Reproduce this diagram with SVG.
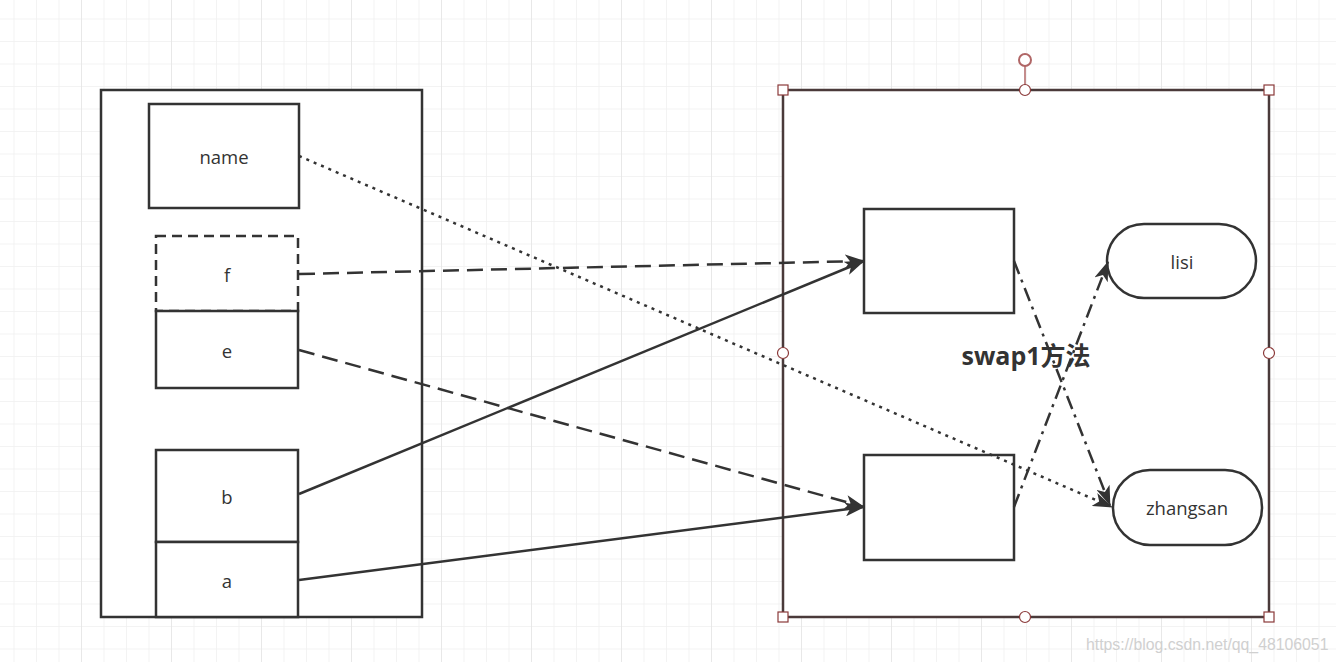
<svg xmlns="http://www.w3.org/2000/svg" width="1336" height="662" viewBox="0 0 1336 662">
<defs>
<pattern id="minor" x="13.5" y="18.5" width="22.5" height="22.5" patternUnits="userSpaceOnUse">
<path d="M0 0H22.5M0 0V22.5" fill="none" stroke="#f0f0f0" stroke-width="1.5"/>
</pattern>
<pattern id="major" x="81" y="18.5" width="90" height="90" patternUnits="userSpaceOnUse">
<path d="M0 0V90" fill="none" stroke="#e4e4e4" stroke-width="1.5"/>
</pattern>
<marker id="ah" viewBox="0 0 20 14" refX="19" refY="7" markerWidth="20" markerHeight="14" markerUnits="userSpaceOnUse" orient="auto">
<path d="M0 0L20 7L0 14L5 7Z" fill="#333"/>
</marker>
<style>
.box{fill:#fff;stroke:#333;stroke-width:2.5}
.lbl{font-family:"Open Sans","Noto Sans","Liberation Sans",sans-serif;font-size:18.5px;fill:#333;text-anchor:middle;dominant-baseline:central}
.c{fill:none;stroke:#333;stroke-width:2.5}
.h{fill:#fff;stroke:#8b3a3a;stroke-width:1.2}
</style>
</defs>
<rect width="1336" height="662" fill="#fff"/>
<rect width="1336" height="662" fill="url(#minor)"/>
<rect width="1336" height="662" fill="url(#major)"/>

<g id="left-frame"><rect class="box" x="101" y="90" width="321" height="527"/></g>
<g id="node-name"><rect class="box" x="149" y="104" width="150" height="104"/><text class="lbl" x="224" y="156">name</text></g>
<g id="node-f"><rect class="box" x="156" y="236" width="142" height="75" stroke-dasharray="10 6"/><text class="lbl" x="227" y="274">f</text></g>
<g id="node-e"><rect class="box" x="156" y="311" width="142" height="77"/><text class="lbl" x="227" y="350">e</text></g>
<g id="node-b"><rect class="box" x="156" y="450" width="142" height="92"/><text class="lbl" x="227" y="496">b</text></g>
<g id="node-a"><rect class="box" x="156" y="542" width="142" height="75"/><text class="lbl" x="227" y="580">a</text></g>

<g id="swap1-frame">
<rect x="783" y="90" width="486" height="527" fill="#fff" stroke="#4a3a3a" stroke-width="2.5"/>
<text x="1026" y="355" font-family="'Open Sans','Noto Sans','Noto Sans CJK SC',sans-serif" font-size="25" font-weight="bold" fill="#333" text-anchor="middle" dominant-baseline="central">swap1方法</text>
</g>
<g id="node-top"><rect class="box" x="864" y="209" width="150" height="104"/></g>
<g id="node-bottom"><rect class="box" x="864" y="455" width="150" height="105"/></g>
<g id="node-lisi"><rect class="box" x="1107" y="224" width="149" height="74" rx="37"/><text class="lbl" x="1182" y="261">lisi</text></g>
<g id="node-zhangsan"><rect class="box" x="1113" y="470" width="149" height="75" rx="37"/><text class="lbl" x="1187" y="507">zhangsan</text></g>

<g id="connectors">
<path class="c" d="M299 156L1112 507" stroke-dasharray="3 5" marker-end="url(#ah)"/>
<path class="c" d="M299 274L864 261" stroke-dasharray="16 8" marker-end="url(#ah)"/>
<path class="c" d="M299 350L864 507" stroke-dasharray="16 8" marker-end="url(#ah)"/>
<path class="c" d="M299 494L864 261" marker-end="url(#ah)"/>
<path class="c" d="M299 580L864 507" marker-end="url(#ah)"/>
<path class="c" d="M1014 261L1110 505" stroke-dasharray="14 6 3 6" marker-end="url(#ah)"/>
<path class="c" d="M1014 507L1108 262" stroke-dasharray="14 6 3 6" marker-end="url(#ah)"/>
</g>

<g id="selection-handles">
<line x1="1025" y1="66" x2="1025" y2="90" stroke="#b06666" stroke-width="1.5"/>
<circle cx="1025" cy="60" r="6" fill="#fff" stroke="#b06666" stroke-width="2"/>
<rect class="h" x="778" y="85" width="10" height="10"/>
<rect class="h" x="1264" y="85" width="10" height="10"/>
<rect class="h" x="778" y="612" width="10" height="10"/>
<rect class="h" x="1264" y="612" width="10" height="10"/>
<circle class="h" cx="1025" cy="90" r="5.5"/>
<circle class="h" cx="1025" cy="617" r="5.5"/>
<circle class="h" cx="783" cy="353" r="5.5"/>
<circle class="h" cx="1269" cy="353" r="5.5"/>
</g>
<text x="1086" y="650" font-family="'Liberation Sans',sans-serif" font-size="15.8" fill="#d0d0d0">https://blog.csdn.net/qq_48106051</text>
</svg>
